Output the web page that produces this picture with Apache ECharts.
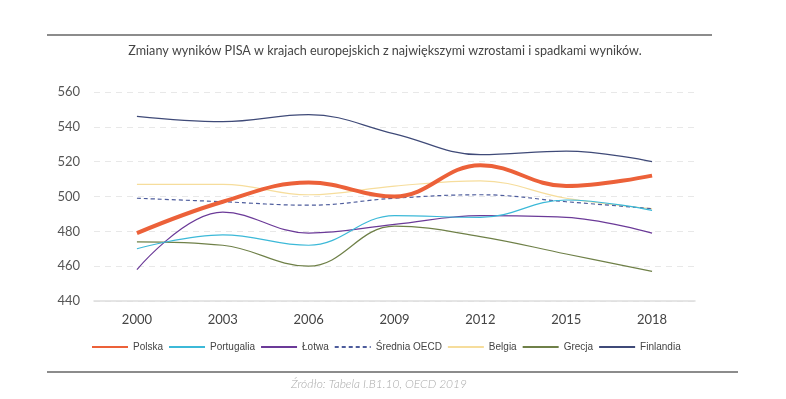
<!DOCTYPE html>
<html>
<head>
<meta charset="utf-8">
<script src="https://cdn.jsdelivr.net/npm/echarts@6/dist/echarts.min.js"></script>
<style>
  html, body { margin: 0; padding: 0; background: #fff; }
  #chart { width: 786px; height: 399px; }
</style>
</head>
<body>
<div id="chart"></div>
<script>
const years = ['2000', '2003', '2006', '2009', '2012', '2015', '2018'];

const polska = [479, 497, 508, 500, 518, 506, 512];
const portugalia = [470, 478, 472, 489, 488, 498, 492];
const lotwa = [458, 491, 479, 484, 489, 488, 479];
const sredniaOecd = [499, 497, 495, 499, 501, 497, 493];
const belgia = [507, 507, 501, 506, 509, 499, 493];
const grecja = [474, 472, 460, 483, 477, 467, 457];
const finlandia = [546, 543, 547, 536, 524, 526, 520];

const chart = echarts.init(document.getElementById('chart'));

const mkLine = (name, data, color, width, type) => ({
  name: name,
  type: 'line',
  smooth: 0.4,
  symbol: 'none',
  data: data,
  itemStyle: { color: color },
  lineStyle: { color: color, width: width, type: type || 'solid' }
});

const option = {
  animation: false,
  textStyle: { fontFamily: 'Lato, "DejaVu Sans", sans-serif' },
  title: {
    text: 'Zmiany wyników PISA w krajach europejskich z największymi wzrostami i spadkami wyników.',
    left: 380,
    textAlign: 'center',
    top: 39,
    textStyle: { fontSize: 12.6, fontWeight: 'normal', color: '#444' }
  },
  graphic: [
    { type: 'line', shape: { x1: 47, y1: 35, x2: 712, y2: 35 }, style: { stroke: '#666', lineWidth: 1.5 } },
    { type: 'line', shape: { x1: 47, y1: 372, x2: 738, y2: 372 }, style: { stroke: '#666', lineWidth: 1.5 } },
    {
      type: 'text', left: 291, top: 378,
      style: {
        text: 'Źródło: Tabela I.B1.10, OECD 2019',
        fill: '#aaa', fontSize: 12, fontStyle: 'italic', fontWeight: 300,
        fontFamily: 'Lato, sans-serif'
      }
    }
  ],
  legend: {
    top: 337,
    left: 86,
    itemWidth: 36,
    itemHeight: 10,
    itemGap: 5,
    itemStyle: { opacity: 0 },
    textStyle: { fontSize: 10, color: '#444', fontFamily: '"Liberation Sans", Arial, sans-serif' },
    data: ['Polska', 'Portugalia', 'Łotwa', 'Średnia OECD', 'Belgia', 'Grecja', 'Finlandia']
  },
  grid: { left: 94, right: 91, top: 92, height: 209 },
  xAxis: {
    type: 'category',
    data: years,
    boundaryGap: true,
    axisLine: { lineStyle: { color: '#ddd', width: 1.5 } },
    axisTick: { show: false },
    axisLabel: { fontSize: 13, color: '#444', margin: 12 }
  },
  yAxis: {
    type: 'value',
    min: 440,
    max: 560,
    interval: 20,
    axisLine: { show: false },
    axisTick: { show: false },
    axisLabel: { fontSize: 13, color: '#555', margin: 14 },
    splitLine: { lineStyle: { color: '#e8e8e8', type: [6, 5] } }
  },
  series: [
    mkLine('Finlandia', finlandia, '#3f4a78', 1.2),
    mkLine('Grecja', grecja, '#6f8048', 1.2),
    mkLine('Belgia', belgia, '#f6dd9c', 1.2),
    mkLine('Średnia OECD', sredniaOecd, '#4d5c9c', 1.2, [4, 3]),
    mkLine('Łotwa', lotwa, '#6b3a98', 1.2),
    mkLine('Portugalia', portugalia, '#3cb9d8', 1.2),
    mkLine('Polska', polska, '#ec6139', 4)
  ]
};

chart.setOption(option);
</script>
</body>
</html>
